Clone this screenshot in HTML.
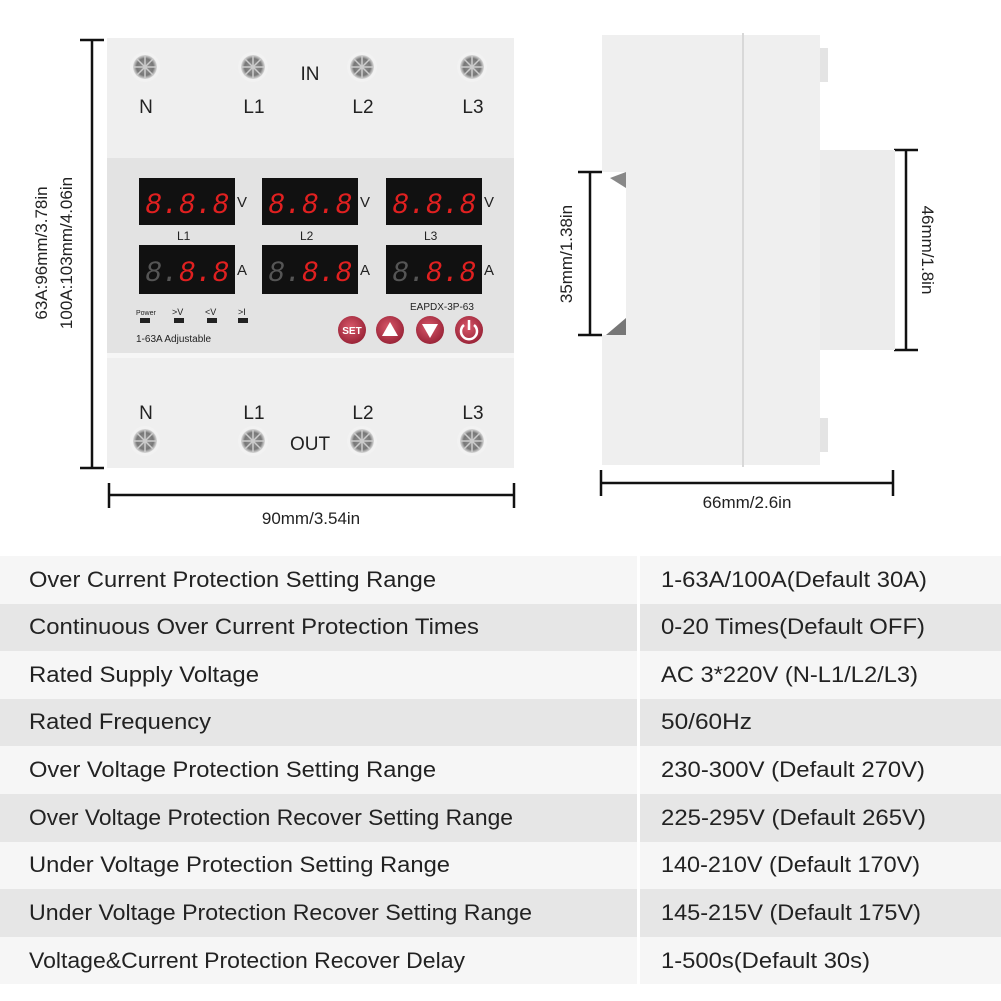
<!DOCTYPE html>
<html><head><meta charset="utf-8"><style>
html,body{margin:0;padding:0;background:#fff;}
svg{display:block;font-family:"Liberation Sans",Arial,sans-serif;}
</style></head><body>
<svg width="1001" height="1001" viewBox="0 0 1001 1001" xmlns="http://www.w3.org/2000/svg">
<defs>
<radialGradient id="sc" cx="50%" cy="50%" r="50%"><stop offset="0" stop-color="#9a9a9a"/><stop offset="0.7" stop-color="#777"/><stop offset="1" stop-color="#ddd"/></radialGradient>
<radialGradient id="bt" cx="45%" cy="40%" r="60%"><stop offset="0" stop-color="#d8586a"/><stop offset="1" stop-color="#9a2438"/></radialGradient>
<g id="screw"><circle r="15" fill="#f2f2f2"/><circle r="12" fill="url(#sc)"/><path d="M-8,-8L8,8M8,-8L-8,8M0,-11V11M-11,0H11" stroke="#ccc" stroke-width="1.5"/></g>
</defs>
<!-- front body -->
<rect x="107" y="38" width="407" height="430" fill="#efefef"/>
<rect x="107" y="158" width="407" height="200" fill="#e3e3e3"/>
<rect x="107" y="353" width="407" height="5" fill="#f6f6f6"/>
<use href="#screw" x="145" y="67"/><use href="#screw" x="253" y="67"/><use href="#screw" x="362" y="67"/><use href="#screw" x="472" y="67"/>
<g font-size="19" fill="#222" text-anchor="middle">
<text x="146" y="113">N</text><text x="254" y="113">L1</text><text x="363" y="113">L2</text><text x="473" y="113">L3</text><text x="310" y="80">IN</text>
<text x="146" y="419">N</text><text x="254" y="419">L1</text><text x="363" y="419">L2</text><text x="473" y="419">L3</text><text x="310" y="450">OUT</text>
</g>
<use href="#screw" x="145" y="441"/><use href="#screw" x="253" y="441"/><use href="#screw" x="362" y="441"/><use href="#screw" x="472" y="441"/>
<!-- displays -->
<g font-family="Liberation Mono,monospace" font-size="30" font-style="italic">
<rect x="139" y="178" width="96" height="47" fill="#111"/><text x="145" y="213" fill="#e02020" textLength="84" lengthAdjust="spacingAndGlyphs">8.8.8</text>
<rect x="262" y="178" width="96" height="47" fill="#111"/><text x="268" y="213" fill="#e02020" textLength="84" lengthAdjust="spacingAndGlyphs">8.8.8</text>
<rect x="386" y="178" width="96" height="47" fill="#111"/><text x="392" y="213" fill="#e02020" textLength="84" lengthAdjust="spacingAndGlyphs">8.8.8</text>
<rect x="139" y="245" width="96" height="49" fill="#111"/><text x="145" y="281" fill="#e02020" textLength="84" lengthAdjust="spacingAndGlyphs"><tspan fill="#555">8.</tspan>8.8</text>
<rect x="262" y="245" width="96" height="49" fill="#111"/><text x="268" y="281" fill="#e02020" textLength="84" lengthAdjust="spacingAndGlyphs"><tspan fill="#555">8.</tspan>8.8</text>
<rect x="386" y="245" width="96" height="49" fill="#111"/><text x="392" y="281" fill="#e02020" textLength="84" lengthAdjust="spacingAndGlyphs"><tspan fill="#555">8.</tspan>8.8</text>
</g>
<g font-size="15" fill="#222">
<text x="237" y="207">V</text><text x="360" y="207">V</text><text x="484" y="207">V</text>
<text x="237" y="275">A</text><text x="360" y="275">A</text><text x="484" y="275">A</text>
<text x="177" y="240" font-size="12">L1</text><text x="300" y="240" font-size="12">L2</text><text x="424" y="240" font-size="12">L3</text>
<text x="410" y="310" font-size="10">EAPDX-3P-63</text>
<text x="136" y="342" font-size="10">1-63A Adjustable</text>
<text x="136" y="315" font-size="7">Power</text><text x="172" y="315" font-size="9">&gt;V</text><text x="205" y="315" font-size="9">&lt;V</text><text x="238" y="315" font-size="9">&gt;I</text>
</g>
<rect x="140" y="318" width="10" height="5" fill="#222"/><rect x="174" y="318" width="10" height="5" fill="#222"/><rect x="207" y="318" width="10" height="5" fill="#222"/><rect x="238" y="318" width="10" height="5" fill="#222"/>
<circle cx="352" cy="330" r="14" fill="url(#bt)"/><text x="352" y="334" font-size="10" font-weight="bold" fill="#fff" text-anchor="middle">SET</text>
<circle cx="390" cy="330" r="14" fill="url(#bt)"/><path d="M382,336L398,336L390,322Z" fill="#fff"/>
<circle cx="430" cy="330" r="14" fill="url(#bt)"/><path d="M422,324L438,324L430,338Z" fill="#fff"/>
<circle cx="469" cy="330" r="14" fill="url(#bt)"/><path d="M464,325A8,8 0 1 0 474,325" fill="none" stroke="#fff" stroke-width="2.5"/><line x1="469" y1="320" x2="469" y2="330" stroke="#fff" stroke-width="2.5"/>
<!-- dims -->
<g stroke="#111" stroke-width="2.5" fill="none">
<path d="M80,40H104M92,40V468M80,468H104"/>
<path d="M109,483V508M109,495H514M514,483V508"/>
<path d="M590,172V335M578,172H602M578,335H602"/>
<path d="M906,150V350M894,150H918M894,350H918"/>
<path d="M601,470V496M601,483H893M893,470V496"/>
</g>
<g font-size="17" fill="#222">
<text transform="translate(47,253) rotate(-90)" text-anchor="middle">63A:96mm/3.78in</text>
<text transform="translate(72,253) rotate(-90)" text-anchor="middle">100A:103mm/4.06in</text>
<text x="311" y="524" text-anchor="middle">90mm/3.54in</text>
<text transform="translate(572,254) rotate(-90)" text-anchor="middle">35mm/1.38in</text>
<text transform="translate(922,250) rotate(90)" text-anchor="middle">46mm/1.8in</text>
<text x="747" y="508" text-anchor="middle">66mm/2.6in</text>
</g>
<!-- side view -->
<rect x="602" y="35" width="218" height="430" fill="#efefef"/>
<rect x="820" y="150" width="75" height="200" fill="#ececec"/>
<rect x="820" y="48" width="8" height="34" fill="#e4e4e4"/><rect x="820" y="418" width="8" height="34" fill="#e4e4e4"/>
<rect x="602" y="172" width="24" height="163" fill="#fff"/>
<path d="M610,178L626,172L626,188Z" fill="#888"/><path d="M606,335L626,318L626,335Z" fill="#777"/>
<line x1="743" y1="33" x2="743" y2="467" stroke="#d8d8d8" stroke-width="2"/>
<!-- table -->
<g>
<rect x="0" y="556" width="1001" height="48" fill="#f6f6f6"/>
<rect x="0" y="604" width="1001" height="47" fill="#e6e6e6"/>
<rect x="0" y="651" width="1001" height="48" fill="#f6f6f6"/>
<rect x="0" y="699" width="1001" height="47" fill="#e6e6e6"/>
<rect x="0" y="746" width="1001" height="48" fill="#f6f6f6"/>
<rect x="0" y="794" width="1001" height="48" fill="#e6e6e6"/>
<rect x="0" y="842" width="1001" height="47" fill="#f6f6f6"/>
<rect x="0" y="889" width="1001" height="48" fill="#e6e6e6"/>
<rect x="0" y="937" width="1001" height="47" fill="#f6f6f6"/>
<line x1="638.5" y1="556" x2="638.5" y2="984" stroke="#fff" stroke-width="3"/>
</g>
<g font-size="22" fill="#222" lengthAdjust="spacingAndGlyphs">
<text x="29" y="587" textLength="407" lengthAdjust="spacingAndGlyphs">Over Current Protection Setting Range</text><text x="661" y="587" textLength="266" lengthAdjust="spacingAndGlyphs">1-63A/100A(Default 30A)</text>
<text x="29" y="634" textLength="450" lengthAdjust="spacingAndGlyphs">Continuous Over Current Protection Times</text><text x="661" y="634" textLength="264" lengthAdjust="spacingAndGlyphs">0-20 Times(Default OFF)</text>
<text x="29" y="682" textLength="230" lengthAdjust="spacingAndGlyphs">Rated Supply Voltage</text><text x="661" y="682" textLength="257" lengthAdjust="spacingAndGlyphs">AC 3*220V (N-L1/L2/L3)</text>
<text x="29" y="729" textLength="182" lengthAdjust="spacingAndGlyphs">Rated Frequency</text><text x="661" y="729" textLength="91" lengthAdjust="spacingAndGlyphs">50/60Hz</text>
<text x="29" y="777" textLength="407" lengthAdjust="spacingAndGlyphs">Over Voltage Protection Setting Range</text><text x="661" y="777" textLength="264" lengthAdjust="spacingAndGlyphs">230-300V (Default 270V)</text>
<text x="29" y="825" textLength="484" lengthAdjust="spacingAndGlyphs">Over Voltage Protection Recover Setting Range</text><text x="661" y="825" textLength="265" lengthAdjust="spacingAndGlyphs">225-295V (Default 265V)</text>
<text x="29" y="872" textLength="421" lengthAdjust="spacingAndGlyphs">Under Voltage Protection Setting Range</text><text x="661" y="872" textLength="259" lengthAdjust="spacingAndGlyphs">140-210V (Default 170V)</text>
<text x="29" y="920" textLength="503" lengthAdjust="spacingAndGlyphs">Under Voltage Protection Recover Setting Range</text><text x="661" y="920" textLength="260" lengthAdjust="spacingAndGlyphs">145-215V (Default 175V)</text>
<text x="29" y="968" textLength="436" lengthAdjust="spacingAndGlyphs">Voltage&amp;Current Protection Recover Delay</text><text x="661" y="968" textLength="209" lengthAdjust="spacingAndGlyphs">1-500s(Default 30s)</text>
</g>
</svg>
</body></html>
